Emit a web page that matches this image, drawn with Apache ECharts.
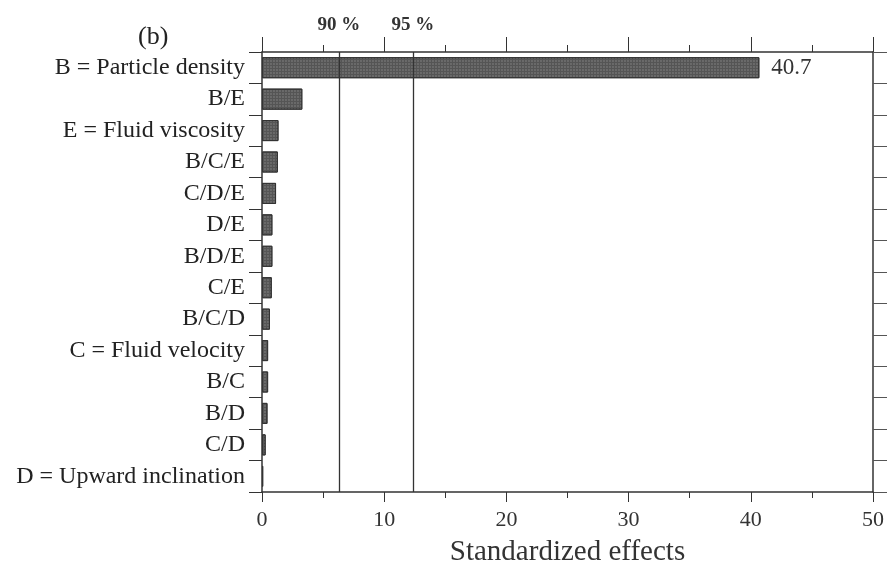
<!DOCTYPE html>
<html><head><meta charset="utf-8">
<script src="https://cdn.jsdelivr.net/npm/echarts@6/dist/echarts.min.js"></script>
<style>html,body{margin:0;padding:0;background:#fff}#c{width:889px;height:572px}</style>
</head><body><div id="c"></div>
<script>
var categories = ['B = Particle density','B/E','E = Fluid viscosity','B/C/E','C/D/E','D/E','B/D/E','C/E','B/C/D','C = Fluid velocity','B/C','B/D','C/D','D = Upward inclination'];
var effects = [40.7, 3.3, 1.35, 1.3, 1.15, 0.85, 0.85, 0.8, 0.65, 0.5, 0.5, 0.45, 0.3, 0.1];
var limits = [{name:'90 %', value:6.3},{name:'95 %', value:12.35}];
var xTicks = [0,10,20,30,40,50];

var F = 'Liberation Serif';
var chart = echarts.init(document.getElementById('c'));
var data = effects.map(function(v,i){
  return i===0 ? {value:v, label:{show:true, position:'right', distance:12, formatter:'{c}', fontFamily:F, fontSize:23, color:'#333'}} : v;
});
chart.setOption({
  animation:false,
  title:{text:'(b)', left:133, top:19, textStyle:{fontFamily:F, fontSize:26, fontWeight:'normal', color:'#222'}},
  grid:{left:262, right:16, top:52, bottom:79},
  xAxis:[{
    type:'value', min:xTicks[0], max:xTicks[xTicks.length-1], interval:10, position:'bottom',
    axisLine:{show:true, onZero:false, lineStyle:{color:'#333', width:1.5}},
    axisTick:{show:true, length:10, lineStyle:{color:'#333'}},
    minorTick:{show:true, splitNumber:2, length:6, lineStyle:{color:'#333'}},
    splitLine:{show:false},
    axisLabel:{fontFamily:F, fontSize:22, color:'#333', margin:17},
    name:'Standardized effects', nameLocation:'middle', nameGap:46,
    nameTextStyle:{fontFamily:F, fontSize:29, color:'#333'}
  },{
    type:'value', min:xTicks[0], max:xTicks[xTicks.length-1], interval:10, position:'top',
    axisLine:{show:true, onZero:false, lineStyle:{color:'#333', width:1.5}},
    axisTick:{show:true, length:15, lineStyle:{color:'#333'}},
    minorTick:{show:true, splitNumber:2, length:7, lineStyle:{color:'#333'}},
    splitLine:{show:false}, axisLabel:{show:false}
  }],
  yAxis:[{
    type:'category', data:categories, inverse:true, position:'left',
    axisLine:{show:true, onZero:false, lineStyle:{color:'#333', width:1.5}},
    axisTick:{show:true, length:13, lineStyle:{color:'#333'}},
    axisLabel:{fontFamily:F, fontSize:24, color:'#222', margin:17}
  },{
    type:'category', data:categories, inverse:true, position:'right',
    axisLine:{show:true, onZero:false, lineStyle:{color:'#333', width:1.5}},
    axisTick:{show:true, length:14, lineStyle:{color:'#555'}},
    axisLabel:{show:false}
  }],
  series:[{
    type:'bar', data:data, barWidth:'67%',
    itemStyle:{color:'#555', borderColor:'#333', borderWidth:1,
      decal:{symbol:'rect', symbolSize:0.6, color:'rgba(210,210,210,0.55)', dashArrayX:[2,1], dashArrayY:[2,1]}},
    markLine:{
      symbol:'none', silent:true,
      lineStyle:{color:'#333', type:'solid', width:1.3},
      label:{show:true, position:'start', distance:17, fontFamily:F, fontSize:19, fontWeight:'bold', color:'#333', formatter:'{b}'},
      data: limits.map(function(l){return {name:l.name, xAxis:l.value};})
    }
  }]
});
</script></body></html>
